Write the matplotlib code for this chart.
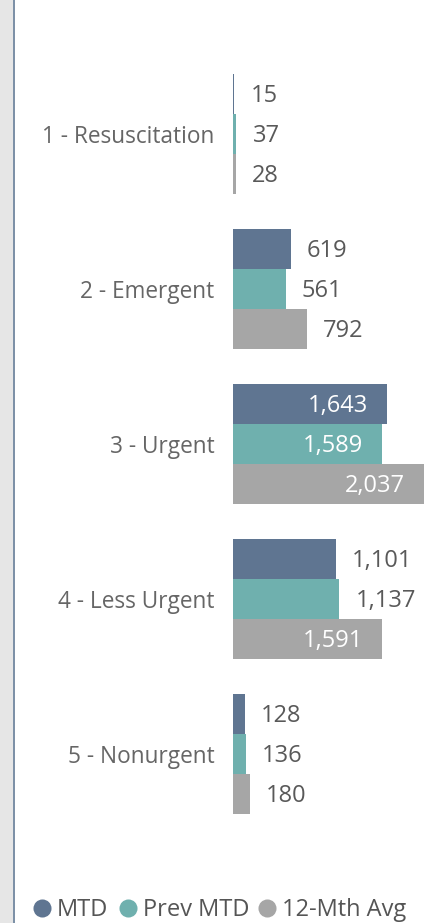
import matplotlib
matplotlib.use("Agg")
import matplotlib.pyplot as plt
from matplotlib.lines import Line2D
from matplotlib.patches import Rectangle
from matplotlib.transforms import offset_copy
import numpy as np

categories = ["1 - Resuscitation", "2 - Emergent", "3 - Urgent", "4 - Less Urgent", "5 - Nonurgent"]
series_names = ["MTD", "Prev MTD", "12-Mth Avg"]
mtd = [15, 619, 1643, 1101, 128]
prev_mtd = [37, 561, 1589, 1137, 136]
avg_12m = [28, 792, 2037, 1591, 180]
colors = ["#5f7591", "#6fb0ae", "#a6a6a6"]

plt.rcParams['font.family'] = ['Open Sans', 'DejaVu Sans']

W, H = 427, 923
fig = plt.figure(figsize=(W / 100, H / 100), dpi=100)
fig.patch.set_facecolor("white")

# left gray strip and border line
fig.patches.append(Rectangle((0, 0), 13 / W, 1, transform=fig.transFigure, facecolor="#e6e6e6", edgecolor="none", zorder=0))
fig.patches.append(Rectangle((13 / W, 0), 2.5 / W, 1, transform=fig.transFigure, facecolor="#7d91a7", edgecolor="none", zorder=1))

ax_left, ax_right = 233, 427
ax_top, ax_bot = 56.5, 831.5
ax = fig.add_axes([ax_left / W, 1 - ax_bot / H, (ax_right - ax_left) / W, (ax_bot - ax_top) / H])
xmax = 2073
ax.set_xlim(0, xmax)
n = len(categories)
ax.set_ylim(n - 0.5, -0.5)
for s in ax.spines.values():
    s.set_visible(False)
ax.set_xticks([])
ax.set_yticks(range(n))
ax.set_yticklabels(categories, fontsize=16.3, color="#666666")
ax.tick_params(axis="y", length=0, pad=13.5)

bh = 40 / 155
y = np.arange(n)
series = [mtd, prev_mtd, avg_12m]
px_per_unit = (ax_right - ax_left) / xmax
fig.canvas.draw()
renderer = fig.canvas.get_renderer()
down = offset_copy(ax.transData, fig=fig, x=0, y=-2.2, units="dots")
for i, (vals, c) in enumerate(zip(series, colors)):
    yy = y + (i - 1) * bh
    ax.barh(yy, vals, height=bh, color=c, edgecolor="none")
    for v, yv in zip(vals, yy):
        label = f"{v:,}"
        t = ax.text(0, yv, label, fontsize=17, va="center", transform=down)
        w = t.get_window_extent(renderer).width
        end_px = ax_left + v * px_per_unit
        if end_px + 16 + w <= W - 2:
            t.set_x(v + 16 / px_per_unit)
            t.set_ha("left")
            t.set_color("#595959")
        else:
            t.set_x(v - 19 / px_per_unit)
            t.set_ha("right")
            t.set_color("white")

# legend (manual placement)
leg_y = 1 - 908 / H
marker_x = [42.5, 128, 267]
text_x = [57, 143, 282]
for name, c, mx, tx in zip(series_names, colors, marker_x, text_x):
    fig.add_artist(Line2D([mx / W], [leg_y], transform=fig.transFigure, marker="o", linestyle="none",
                          markersize=13, markerfacecolor=c, markeredgecolor="none"))
    fig.text(tx / W, leg_y, name, fontsize=17, color="#555555", va="center", ha="left",
             transform=offset_copy(fig.transFigure, fig=fig, x=0, y=-2, units="dots"))

fig.savefig("out.png", dpi=100, facecolor="white")
